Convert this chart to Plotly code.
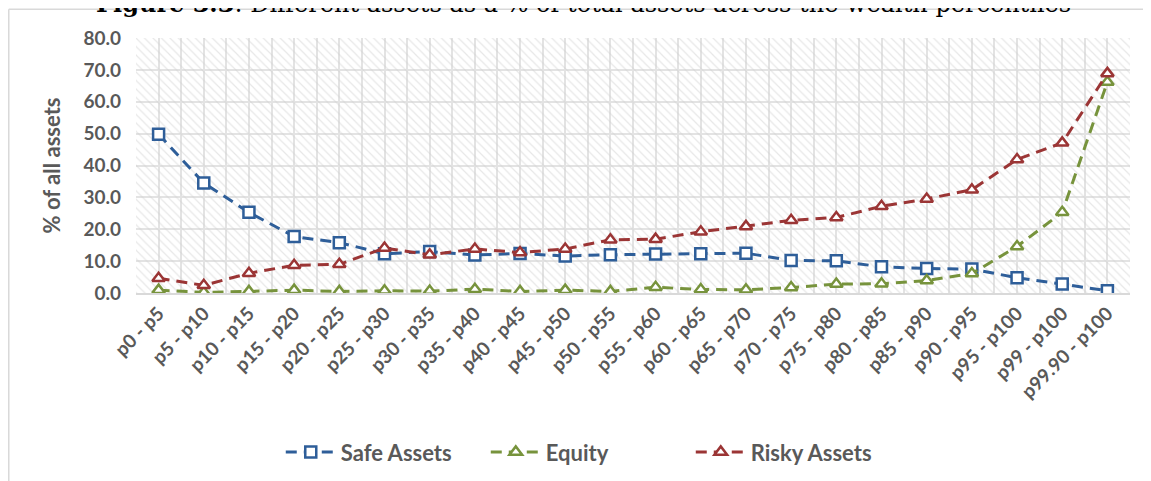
import plotly.graph_objects as go

# wealth percentile groups
categories = ["p0 - p5", "p5 - p10", "p10 - p15", "p15 - p20", "p20 - p25", "p25 - p30",
              "p30 - p35", "p35 - p40", "p40 - p45", "p45 - p50", "p50 - p55", "p55 - p60",
              "p60 - p65", "p65 - p70", "p70 - p75", "p75 - p80", "p80 - p85", "p85 - p90",
              "p90 - p95", "p95 - p100", "p99 - p100", "p99.90 - p100"]

safe_assets = [49.8, 34.5, 25.3, 17.7, 15.8, 12.3, 13.0, 11.9, 12.4, 11.6, 12.0, 12.2,
               12.3, 12.5, 10.2, 10.1, 8.2, 7.7, 7.5, 4.8, 2.8, 0.7]
equity = [0.9, 0.2, 0.5, 0.9, 0.5, 0.7, 0.6, 1.2, 0.5, 0.9, 0.5, 1.8,
          1.1, 1.0, 1.7, 2.8, 2.9, 3.9, 6.1, 14.6, 25.3, 66.2]
risky_assets = [4.6, 2.4, 6.2, 8.7, 9.0, 14.1, 12.0, 13.8, 12.7, 13.8, 16.7, 16.9,
                19.2, 20.9, 22.8, 23.7, 27.2, 29.5, 32.4, 41.9, 47.1, 68.9]

y_ticks = [0, 10, 20, 30, 40, 50, 60, 70, 80]

series = [
    ("Safe Assets", safe_assets, "#2E5E99", "square"),
    ("Equity", equity, "#77933C", "triangle-up"),
    ("Risky Assets", risky_assets, "#9B3535", "triangle-up"),
]

xs = list(range(len(categories)))
x_range = [-0.5, len(categories) - 0.5]
y_range = [y_ticks[0], y_ticks[-1]]

fig = go.Figure()

# hatched plot-area background (Excel pattern fill)
fig.add_trace(go.Scatter(
    x=[x_range[0], x_range[1], x_range[1], x_range[0], x_range[0]],
    y=[y_range[0], y_range[0], y_range[1], y_range[1], y_range[0]],
    mode="none", fill="toself", fillcolor="rgba(0,0,0,0)",
    fillpattern=dict(shape="\\", fgcolor="#d0d0d0", bgcolor="rgba(0,0,0,0)",
                     size=6, solidity=0.2),
    showlegend=False, hoverinfo="skip",
))

for name, vals, color, sym in series:
    fig.add_trace(go.Scatter(
        x=xs, y=vals, name=name, mode="lines+markers",
        line=dict(color=color, width=3, dash="11px,7px"),
        marker=dict(symbol=sym, size=11, color="white",
                    line=dict(color=color, width=2.5)),
    ))

font_fam = "Lato, 'Open Sans', sans-serif"

fig.update_layout(
    width=1151, height=481,
    margin=dict(l=128, r=29, t=30, b=196),
    paper_bgcolor="white", plot_bgcolor="white",
    font=dict(family=font_fam, color="#595959"),
    showlegend=True,
    legend=dict(orientation="h", x=0.455, xanchor="center", y=-0.624, yanchor="middle",
                font=dict(size=22, family=font_fam, color="#595959", weight="bold"),
                itemwidth=50, tracegroupgap=0, entrywidth=140, entrywidthmode="pixels"),
    xaxis=dict(
        range=x_range, tickmode="array", tickvals=xs, ticktext=categories,
        tickangle=-45, showgrid=True, gridcolor="#e3e3e3", gridwidth=1.5,
        minor=dict(tick0=-0.5, dtick=1, showgrid=True, gridcolor="#e3e3e3", gridwidth=1.5),
        showline=True, linecolor="#d9d9d9", linewidth=2, zeroline=False,
        tickfont=dict(size=19, family=font_fam, color="#595959", weight="bold"),
        ticks="", fixedrange=True, automargin=False,
    ),
    yaxis=dict(
        range=y_range, tickmode="array", tickvals=y_ticks, tickformat=".1f",
        showgrid=True, gridcolor="#e3e3e3", gridwidth=1.5, zeroline=False,
        showline=False, ticks="", ticklabelstandoff=14, automargin=False,
        tickfont=dict(size=19, family=font_fam, color="#595959", weight="bold"),
        title=dict(text="% of all assets", standoff=16,
                   font=dict(size=22, family=font_fam, color="#595959", weight="bold")),
    ),
    annotations=[dict(
        text="<b>Figure 3.3</b>: Different assets as a % of total assets across the wealth percentiles",
        xref="paper", yref="paper", x=0.45, y=1.069, xanchor="center", yanchor="bottom",
        showarrow=False, font=dict(size=24, family="'DejaVu Serif', serif", color="black"),
    )],
    shapes=[
        dict(type="line", xref="paper", yref="paper", x0=-0.128, x1=1.05, y0=1.1125, y1=1.1125,
             line=dict(color="#d9d9d9", width=1.5)),
        dict(type="line", xref="paper", yref="paper", x0=-0.128, x1=-0.128, y0=1.1125, y1=-0.8,
             line=dict(color="#d9d9d9", width=1.5)),
    ],
)

fig.write_html("out.html")
